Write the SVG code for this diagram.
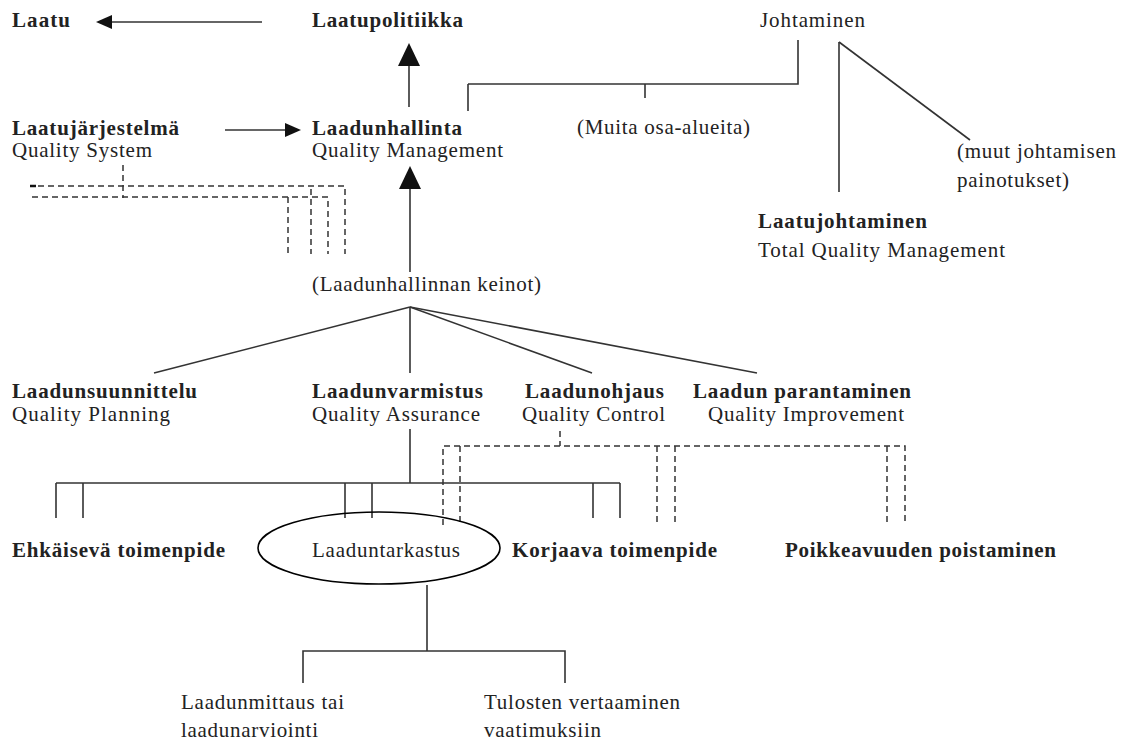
<svg xmlns="http://www.w3.org/2000/svg" width="1122" height="744" viewBox="0 0 1122 744">
<style>
text{font-family:"Liberation Serif","Times New Roman",serif;font-size:21px;fill:#222}
.b{font-weight:bold}
.ln{stroke:#333;stroke-width:1.6;fill:none}
.ds{stroke:#333;stroke-width:1.5;fill:none;stroke-dasharray:6 4}
.ah{fill:#111}
</style>
<rect width="1122" height="744" fill="#fff"/>
<g id="connectors">
<line class="ln" x1="262" y1="22" x2="108" y2="22"/>
<polygon class="ah" points="96,22 112,15 112,29"/>
<line class="ln" x1="409" y1="107" x2="409" y2="64"/>
<polygon class="ah" points="409,43 398,66 420,66"/>
<line class="ln" x1="225" y1="130" x2="288" y2="130"/>
<polygon class="ah" points="301,130 285,123 285,137"/>
<line class="ln" x1="410" y1="272" x2="410" y2="188"/>
<polygon class="ah" points="410,166 399,189 421,189"/>
<polyline class="ln" points="798,40 798,84 468,84"/>
<line class="ln" x1="468" y1="84" x2="468" y2="111"/>
<line class="ln" x1="645" y1="84" x2="645" y2="98"/>
<line class="ln" x1="839" y1="42" x2="839" y2="192"/>
<line class="ln" x1="839" y1="42" x2="970" y2="140"/>
<line class="ds" x1="123" y1="165" x2="123" y2="198"/>
<line x1="30" y1="186" x2="36" y2="186" stroke="#111" stroke-width="2.5"/>
<polyline class="ds" points="38,186 345,186 345,254"/>
<polyline class="ds" points="32,197 328,197 328,254"/>
<line class="ds" x1="288" y1="197" x2="288" y2="254"/>
<line class="ds" x1="311" y1="189" x2="311" y2="254"/>
<line class="ln" x1="410" y1="307" x2="154" y2="373"/>
<line class="ln" x1="410" y1="307" x2="410" y2="373"/>
<line class="ln" x1="410" y1="307" x2="592" y2="373"/>
<line class="ln" x1="410" y1="307" x2="757" y2="373"/>
<line class="ln" x1="410" y1="429" x2="410" y2="483"/>
<line class="ln" x1="56" y1="483" x2="620" y2="483"/>
<line class="ln" x1="56" y1="483" x2="56" y2="518"/>
<line class="ln" x1="83" y1="483" x2="83" y2="518"/>
<line class="ln" x1="345" y1="483" x2="345" y2="518"/>
<line class="ln" x1="372" y1="483" x2="372" y2="518"/>
<line class="ln" x1="593" y1="483" x2="593" y2="518"/>
<line class="ln" x1="620" y1="483" x2="620" y2="518"/>
<line class="ds" x1="560" y1="431" x2="560" y2="446"/>
<polyline class="ds" points="443,525 443,446 905,446 905,525"/>
<line class="ds" x1="460" y1="446" x2="460" y2="525"/>
<line class="ds" x1="657" y1="446" x2="657" y2="525"/>
<line class="ds" x1="675" y1="446" x2="675" y2="525"/>
<line class="ds" x1="887" y1="446" x2="887" y2="525"/>
<line class="ln" x1="427" y1="585" x2="427" y2="651"/>
<polyline class="ln" points="303,683 303,651 565,651 565,683"/>
</g>
<g id="n-laatu"><text class="b" x="12" y="27" textLength="58" lengthAdjust="spacing">Laatu</text></g>
<g id="n-laatupolitiikka"><text class="b" x="312" y="27" textLength="151" lengthAdjust="spacing">Laatupolitiikka</text></g>
<g id="n-johtaminen"><text x="760" y="27" textLength="105" lengthAdjust="spacing">Johtaminen</text></g>
<g id="n-laatujarjestelma"><text class="b" x="12" y="135" textLength="167" lengthAdjust="spacing">Laatujärjestelmä</text><text x="12" y="157" textLength="140" lengthAdjust="spacing">Quality System</text></g>
<g id="n-laadunhallinta"><text class="b" x="312" y="135" textLength="150" lengthAdjust="spacing">Laadunhallinta</text><text x="312" y="157" textLength="191" lengthAdjust="spacing">Quality Management</text></g>
<g id="n-muita"><text x="577" y="134" textLength="173" lengthAdjust="spacing">(Muita osa-alueita)</text></g>
<g id="n-muut"><text x="957" y="158" textLength="159" lengthAdjust="spacing">(muut johtamisen</text><text x="957" y="187" textLength="112" lengthAdjust="spacing">painotukset)</text></g>
<g id="n-laatujohtaminen"><text class="b" x="758" y="228" textLength="169" lengthAdjust="spacing">Laatujohtaminen</text><text x="758" y="257" textLength="247" lengthAdjust="spacing">Total Quality Management</text></g>
<g id="n-keinot"><text x="312" y="291" textLength="229" lengthAdjust="spacing">(Laadunhallinnan keinot)</text></g>
<g id="n-suunnittelu"><text class="b" x="12" y="398" textLength="185" lengthAdjust="spacing">Laadunsuunnittelu</text><text x="12" y="421" textLength="158" lengthAdjust="spacing">Quality Planning</text></g>
<g id="n-varmistus"><text class="b" x="312" y="398" textLength="171" lengthAdjust="spacing">Laadunvarmistus</text><text x="312" y="421" textLength="168" lengthAdjust="spacing">Quality Assurance</text></g>
<g id="n-ohjaus"><text class="b" x="525" y="398" textLength="139" lengthAdjust="spacing">Laadunohjaus</text><text x="522" y="421" textLength="143" lengthAdjust="spacing">Quality Control</text></g>
<g id="n-parantaminen"><text class="b" x="693" y="398" textLength="218" lengthAdjust="spacing">Laadun parantaminen</text><text x="708" y="421" textLength="196" lengthAdjust="spacing">Quality Improvement</text></g>
<g id="n-ehkaiseva"><text class="b" x="12" y="557" textLength="213" lengthAdjust="spacing">Ehkäisevä toimenpide</text></g>
<g id="n-tarkastus"><ellipse cx="379" cy="548" rx="121" ry="36" fill="none" stroke="#000" stroke-width="1.6"/><text x="312" y="557" textLength="148" lengthAdjust="spacing">Laaduntarkastus</text></g>
<g id="n-korjaava"><text class="b" x="512" y="557" textLength="205" lengthAdjust="spacing">Korjaava toimenpide</text></g>
<g id="n-poikkeavuus"><text class="b" x="785" y="557" textLength="271" lengthAdjust="spacing">Poikkeavuuden poistaminen</text></g>
<g id="n-mittaus"><text x="181" y="709" textLength="163" lengthAdjust="spacing">Laadunmittaus tai</text><text x="181" y="737" textLength="137" lengthAdjust="spacing">laadunarviointi</text></g>
<g id="n-vertaaminen"><text x="484" y="709" textLength="196" lengthAdjust="spacing">Tulosten vertaaminen</text><text x="484" y="737" textLength="117" lengthAdjust="spacing">vaatimuksiin</text></g>
</svg>
